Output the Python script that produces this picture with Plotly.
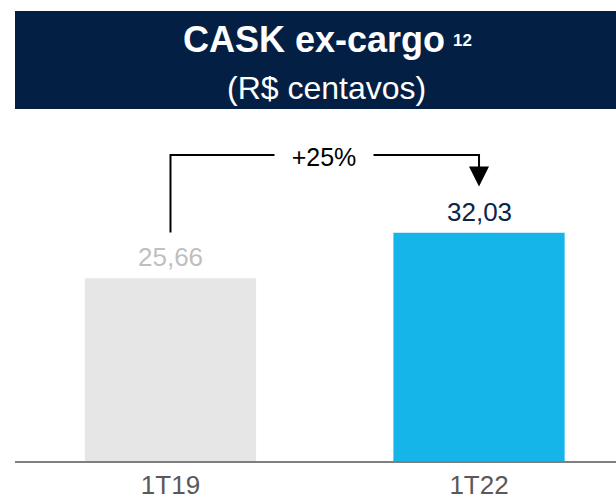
import plotly.graph_objects as go

categories = ["1T19", "1T22"]
values = [25.66, 32.03]
value_labels = ["25,66", "32,03"]
bar_colors = ["#e6e6e6", "#15b5ea"]
label_colors = ["#bfbfbf", "#0b2649"]
change_label = "+25%"
title = "CASK ex-cargo"
title_sup = "12"
subtitle = "(R$ centavos)"

FONT = "Liberation Sans, Arial, sans-serif"

fig = go.Figure()
fig.add_trace(go.Bar(
    x=categories, y=values, marker=dict(color=bar_colors, line=dict(width=0)),
    width=0.555, hoverinfo="skip",
))

# value labels
for c, v, t, col in zip(categories, values, value_labels, label_colors):
    fig.add_annotation(x=c, y=v, text=t, showarrow=False, yanchor="bottom",
                       yshift=4, font=dict(family=FONT, size=26, color=col))

# bracket arrow
top_level = max(values) + 10.9
left_bottom = values[0] + 6.4
tip = values[1] + 6.5
fig.add_shape(type="path",
              path=f"M 0 {left_bottom} L 0 {top_level} L 1 {top_level} L 1 {tip + 2}",
              xref="x", yref="y", line=dict(color="black", width=2))
fig.add_annotation(x=1, y=tip, ax=1, ay=top_level - 1.0, axref="x", ayref="y",
                   xref="x", yref="y", showarrow=True, arrowhead=2, arrowsize=2,
                   arrowwidth=2, arrowcolor="black", text="")
fig.add_annotation(x=0.497, y=top_level, xref="x", yref="y", text=change_label,
                   showarrow=False, bgcolor="white", width=96, yanchor="middle",
                   yshift=-2, font=dict(family=FONT, size=25, color="black"))

# header
fig.add_shape(type="rect", xref="paper", yref="paper", x0=0, x1=1, y0=1.0173, y1=1.3006,
              fillcolor="#041f44", line=dict(width=0), layer="below")
fig.add_annotation(x=0.4967, y=1.219, xref="paper", yref="paper",
                   text=f"<b>{title}</b>",
                   showarrow=False, xanchor="center", yanchor="middle",
                   font=dict(family=FONT, size=36, color="white"))
fig.add_annotation(x=0.7255, y=1.219, xref="paper", yref="paper",
                   text=f"<b>{title_sup}</b>", yshift=-1,
                   showarrow=False, xanchor="left", yanchor="middle",
                   font=dict(family=FONT, size=17, color="white"))
fig.add_annotation(x=0.5175, y=1.078, xref="paper", yref="paper", text=subtitle,
                   showarrow=False, xanchor="center", yanchor="middle",
                   font=dict(family=FONT, size=32, color="white"))

fig.update_layout(
    width=616, height=499,
    margin=dict(l=15, r=0, t=115, b=38),
    paper_bgcolor="white", plot_bgcolor="white",
    showlegend=False,
    xaxis=dict(range=[-0.504, 1.444], showline=True, linecolor="#7f7f7f", linewidth=2,
               ticks="", showgrid=False, zeroline=False,
               tickfont=dict(family=FONT, size=26, color="#595959")),
    yaxis=dict(range=[0, 48.56], visible=False, showgrid=False, zeroline=False),
)

fig.write_html("out.html", config={"displayModeBar": False},
               post_script="document.body.style.margin='0';")
